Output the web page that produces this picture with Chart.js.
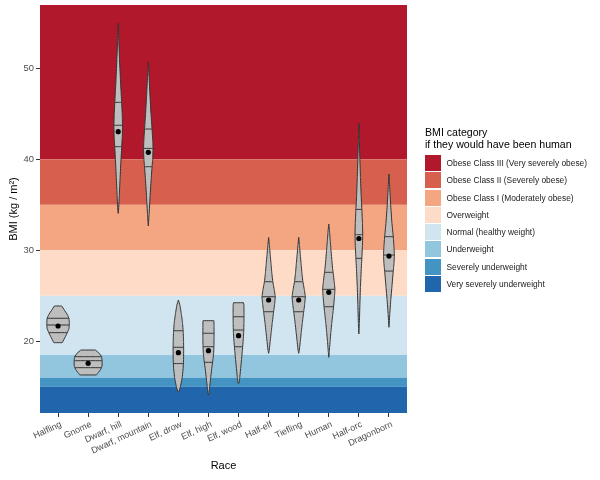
<!DOCTYPE html>
<html>
<head>
<meta charset="utf-8">
<script src="https://cdn.jsdelivr.net/npm/chart.js@4.4.1/dist/chart.umd.min.js"></script>
<style>
    body { margin: 0; background: #fff; font-family: "Liberation Sans", Arial, sans-serif; }
    #wrap { position: relative; width: 600px; height: 480px; }
    #legend { position: absolute; left: 425px; top: 126px; color: #000; }
    .lg-title { font-size: 10.6px; line-height: 12px; margin-bottom: 5px; white-space: nowrap; }
    .lg-row { position: relative; height: 17.25px; }
    .lg-key { position: absolute; left: 0; top: 0; width: 16px; height: 16px; }
    .lg-text { position: absolute; left: 21.5px; top: 0; line-height: 16px; font-size: 8.4px; color: #1a1a1a; white-space: nowrap; }
</style>
</head>
<body>
<div id="wrap">
    <canvas id="chart" width="600" height="480"></canvas>
    <div id="legend"></div>
</div>
<script>
const races = ['Halfling', 'Gnome', 'Dwarf, hill', 'Dwarf, mountain', 'Elf, drow', 'Elf, high',
    'Elf, wood', 'Half-elf', 'Tiefling', 'Human', 'Half-orc', 'Dragonborn'];

// BMI bands (human categories), top to bottom
const bandLabels = ['Obese Class III (Very severely obese)', 'Obese Class II (Severely obese)',
    'Obese Class I (Moderately obese)', 'Overweight', 'Normal (healthy weight)', 'Underweight',
    'Severely underweight', 'Very severely underweight'];
const bandColors = ['#B2182B', '#D6604D', '#F4A582', '#FDDBC7', '#D1E5F0', '#92C5DE', '#4393C3', '#2166AC'];
const bandLow = [40, 35, 30, 25, 18.5, 16, 15, null];
const bandHigh = [null, 40, 35, 30, 25, 18.5, 16, 15];

// violin outlines: [BMI, half width in category units]
const violinProfiles = [
    [[23.88, 0.123], [23.4, 0.216], [22.9, 0.315], [22.5, 0.365], [22.0, 0.375], [21.4, 0.365], [21.0, 0.315], [20.5, 0.242], [19.85, 0.139]],
    [[19.04, 0.242], [18.7, 0.365], [18.3, 0.448], [17.9, 0.464], [17.3, 0.464], [16.9, 0.414], [16.6, 0.348], [16.3, 0.275]],
    [[54.95, 0], [53, 0.020], [51, 0.043], [49, 0.070], [47.5, 0.093], [46.3, 0.113], [45, 0.133], [43.7, 0.143], [42.5, 0.136], [41.4, 0.116], [40, 0.093], [38, 0.063], [36, 0.036], [34.07, 0.007]],
    [[50.73, 0], [49, 0.027], [47, 0.056], [45, 0.090], [43.3, 0.126], [42, 0.149], [41.2, 0.159], [40, 0.146], [39.2, 0.126], [38, 0.099], [36, 0.060], [34, 0.027], [32.67, 0]],
    [[24.54, 0], [24.0, 0.050], [23.0, 0.099], [22.0, 0.139], [21.0, 0.162], [20.0, 0.172], [19.0, 0.176], [18.0, 0.172], [17.0, 0.159], [16.0, 0.126], [15.0, 0.066], [14.46, 0.017]],
    [[22.27, 0.182], [21.5, 0.186], [20.5, 0.186], [19.5, 0.182], [18.7, 0.172], [18.0, 0.149], [17.0, 0.109], [16.0, 0.073], [15.0, 0.040], [14.1, 0.010]],
    [[24.24, 0.166], [24.0, 0.179], [23.0, 0.182], [22.0, 0.179], [21.0, 0.172], [20.0, 0.153], [19.0, 0.126], [18.0, 0.099], [17.0, 0.070], [16.0, 0.040], [15.38, 0.013]],
    [[31.43, 0], [30.5, 0.027], [29.5, 0.053], [28.5, 0.080], [27.5, 0.106], [26.55, 0.139], [25.7, 0.186], [24.9, 0.222], [24.0, 0.196], [23.25, 0.166], [22.0, 0.119], [21.0, 0.086], [20.0, 0.053], [19.0, 0.020], [18.68, 0]],
    [[31.43, 0], [30.5, 0.027], [29.5, 0.053], [28.5, 0.080], [27.5, 0.106], [26.55, 0.139], [25.7, 0.186], [24.9, 0.222], [24.0, 0.196], [23.25, 0.166], [22.0, 0.119], [21.0, 0.086], [20.0, 0.053], [19.0, 0.020], [18.68, 0]],
    [[32.89, 0], [32, 0.027], [31, 0.050], [30, 0.073], [29, 0.099], [28, 0.126], [27.58, 0.143], [26.5, 0.182], [25.71, 0.206], [25, 0.192], [23.8, 0.159], [23, 0.133], [22, 0.099], [21, 0.070], [20, 0.043], [19, 0.020], [18.24, 0]],
    [[43.96, 0], [42, 0.017], [40, 0.033], [38, 0.053], [36, 0.076], [34.5, 0.099], [33, 0.119], [31.7, 0.129], [30.5, 0.119], [29.1, 0.099], [28, 0.080], [26, 0.053], [24, 0.033], [22, 0.017], [20.8, 0]],
    [[38.39, 0], [37, 0.023], [35, 0.056], [33, 0.099], [31.5, 0.143], [30.5, 0.166], [29.48, 0.182], [28.5, 0.166], [27.72, 0.143], [26, 0.099], [24.5, 0.060], [23, 0.027], [21.54, 0]]
];

const q25 = [20.95, 17.10, 41.39, 39.19, 17.55, 17.69, 19.40, 23.25, 23.25, 23.80, 29.12, 27.72];
const q50 = [21.79, 17.87, 43.74, 41.20, 19.34, 19.41, 21.24, 24.90, 24.90, 25.71, 31.72, 29.48];
const q75 = [22.53, 18.31, 46.26, 43.33, 21.16, 20.88, 22.70, 26.55, 26.55, 27.58, 34.50, 31.50];
const means = [21.68, 17.58, 43.04, 40.77, 18.75, 18.97, 20.62, 24.54, 24.54, 25.38, 31.30, 29.37];

const yTicks = [20, 30, 40, 50];
const yMin = 12.12;
const yMax = 56.96;

// half width of a violin at a given BMI (for the quantile lines)
function widthAt(profile, v) {
    for (let i = 0; i < profile.length - 1; i++) {
        const a = profile[i], b = profile[i + 1];
        if (v <= a[0] && v >= b[0]) {
            const t = (a[0] - v) / (a[0] - b[0]);
            return a[1] + t * (b[1] - a[1]);
        }
    }
    return 0;
}

const datasets = [];

// tiny tension keeps Chart.js off its x-sorted fast path, which breaks closed outlines
violinProfiles.forEach((profile, i) => {
    const c = i + 1;
    const right = profile.map(p => ({ x: c + p[1], y: p[0] }));
    const left = profile.slice().reverse().map(p => ({ x: c - p[1], y: p[0] }));
    datasets.push({
        data: right.concat(left, [right[0]]),
        order: 3,
        showLine: true,
        fill: 'shape',
        backgroundColor: '#BEBEBE',
        borderColor: '#333333',
        borderWidth: 1,
        borderJoinStyle: 'round',
        pointRadius: 0,
        tension: 0.0001
    });
});

const quantileData = [];
violinProfiles.forEach((profile, i) => {
    const c = i + 1;
    [q25[i], q50[i], q75[i]].forEach(q => {
        const hw = widthAt(profile, q);
        quantileData.push({ x: c - hw, y: q }, { x: c + hw, y: q }, { x: c, y: null });
    });
});
datasets.push({
    data: quantileData,
    order: 2,
    showLine: true,
    spanGaps: false,
    borderColor: '#333333',
    borderWidth: 1,
    pointRadius: 0,
    tension: 0.0001,
    fill: false
});

datasets.push({
    data: means.map((m, i) => ({ x: i + 1, y: m })),
    order: 1,
    pointRadius: 2.6,
    pointBackgroundColor: '#000',
    pointBorderWidth: 0,
    showLine: false
});

const bandsPlugin = {
    id: 'bands',
    beforeDatasetsDraw(chart) {
        const { ctx, chartArea, scales } = chart;
        ctx.save();
        bandColors.forEach((col, i) => {
            const top = bandHigh[i] === null ? chartArea.top : scales.y.getPixelForValue(bandHigh[i]);
            const bottom = bandLow[i] === null ? chartArea.bottom : scales.y.getPixelForValue(bandLow[i]);
            ctx.fillStyle = col;
            ctx.fillRect(chartArea.left, top, chartArea.right - chartArea.left, bottom - top);
        });
        ctx.restore();
    }
};

new Chart(document.getElementById('chart'), {
    type: 'scatter',
    data: { datasets: datasets },
    plugins: [bandsPlugin],
    options: {
        responsive: false,
        animation: false,
        devicePixelRatio: 1,
        layout: { padding: { top: 5, right: 193, left: 0, bottom: 0 } },
        plugins: { legend: { display: false }, tooltip: { enabled: false } },
        scales: {
            x: {
                type: 'linear',
                min: 0.4,
                max: 12.6,
                afterBuildTicks: s => { s.ticks = races.map((r, i) => ({ value: i + 1 })); },
                afterFit: s => { s.height = 67; s.paddingLeft = 0; s.paddingRight = 0; },
                border: { display: false },
                grid: { drawOnChartArea: false, tickLength: 4, color: '#333333' },
                ticks: {
                    autoSkip: false,
                    minRotation: 25,
                    maxRotation: 25,
                    padding: 2,
                    labelOffset: 3,
                    color: '#4D4D4D',
                    font: { family: 'Liberation Sans', size: 9 },
                    callback: v => races[v - 1]
                },
                title: {
                    display: true,
                    text: 'Race',
                    color: '#000',
                    font: { family: 'Liberation Sans', size: 11 },
                    padding: { top: 0, bottom: 7 }
                }
            },
            y: {
                min: yMin,
                max: yMax,
                afterBuildTicks: s => { s.ticks = yTicks.map(v => ({ value: v })); },
                afterFit: s => { s.width = 40; s.paddingTop = 0; s.paddingBottom = 0; },
                border: { display: false },
                grid: { drawOnChartArea: false, tickLength: 4, color: '#333333' },
                ticks: {
                    padding: 2,
                    color: '#4D4D4D',
                    font: { family: 'Liberation Sans', size: 9.4 }
                },
                title: {
                    display: true,
                    text: 'BMI (kg / m²)',
                    color: '#000',
                    font: { family: 'Liberation Sans', size: 11 },
                    padding: { top: 7, bottom: 0 }
                }
            }
        }
    }
});

// legend
let legendHTML = '<div class="lg-title">BMI category<br>if they would have been human</div>';
bandLabels.forEach((label, i) => {
    legendHTML += `<div class="lg-row"><div class="lg-key" style="background:${bandColors[i]}"></div>` +
        `<div class="lg-text">${label}</div></div>`;
});
document.getElementById('legend').innerHTML = legendHTML;
</script>
</body>
</html>
